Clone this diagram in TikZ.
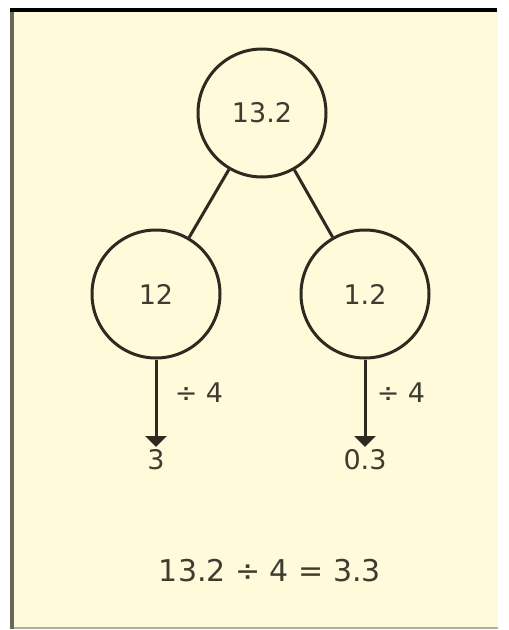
\documentclass[tikz,border=0pt]{standalone}
\usepackage{fontspec}
\setmainfont{DejaVu Sans}
\usetikzlibrary{arrows.meta}
\definecolor{bg}{RGB}{255,250,218}
\definecolor{ink}{RGB}{45,42,32}
\definecolor{txt}{RGB}{62,60,48}
\definecolor{frameleft}{RGB}{105,103,92}
\definecolor{framebottom}{RGB}{175,172,160}
\begin{document}
\begin{tikzpicture}[x=1pt,y=-1pt,
  numcircle/.style={circle,draw=ink,line width=3pt,minimum size=128pt,inner sep=0pt,
    font=\fontsize{27}{30}\selectfont,text=txt},
  link/.style={draw=ink,line width=3pt},
  divarrow/.style={draw=ink,line width=3pt,-{Triangle[width=21pt,length=11pt]}},
  lbl/.style={font=\fontsize{27}{30}\selectfont,text=txt,inner sep=2pt},
  eqn/.style={font=\fontsize{30}{34}\selectfont,text=txt,inner sep=2pt}]
\useasboundingbox (0,0) rectangle (509,630);
\fill[white] (0,0) rectangle (509,630);
\fill[bg] (12,10) rectangle (498,628);
\draw[framebottom,line width=2pt] (12,628) -- (498,628);
\draw[frameleft,line width=4pt] (12,9) -- (12,629);
\draw[black,line width=3.5pt] (10,10) -- (497,10);

\node[numcircle] (top) at (262,113) {13.2};
\node[numcircle] (left) at (156,294) {12};
\node[numcircle] (right) at (365,294) {1.2};

\draw[link] (top) -- (left);
\draw[link] (top) -- (right);

\node[lbl,anchor=north] (three) at (156,447) {3};
\node[lbl,anchor=north] (zerothree) at (365,447) {0.3};

\draw[divarrow] (left.south) -- (three.north);
\draw[divarrow] (right.south) -- (zerothree.north);

\node[lbl] (ldiv) at (199,393) {÷ 4};
\node[lbl] (rdiv) at (401,393) {÷ 4};

\node[eqn] (eq) at (270,571) {13.2 ÷ 4 = 3.3};
\end{tikzpicture}
\end{document}
